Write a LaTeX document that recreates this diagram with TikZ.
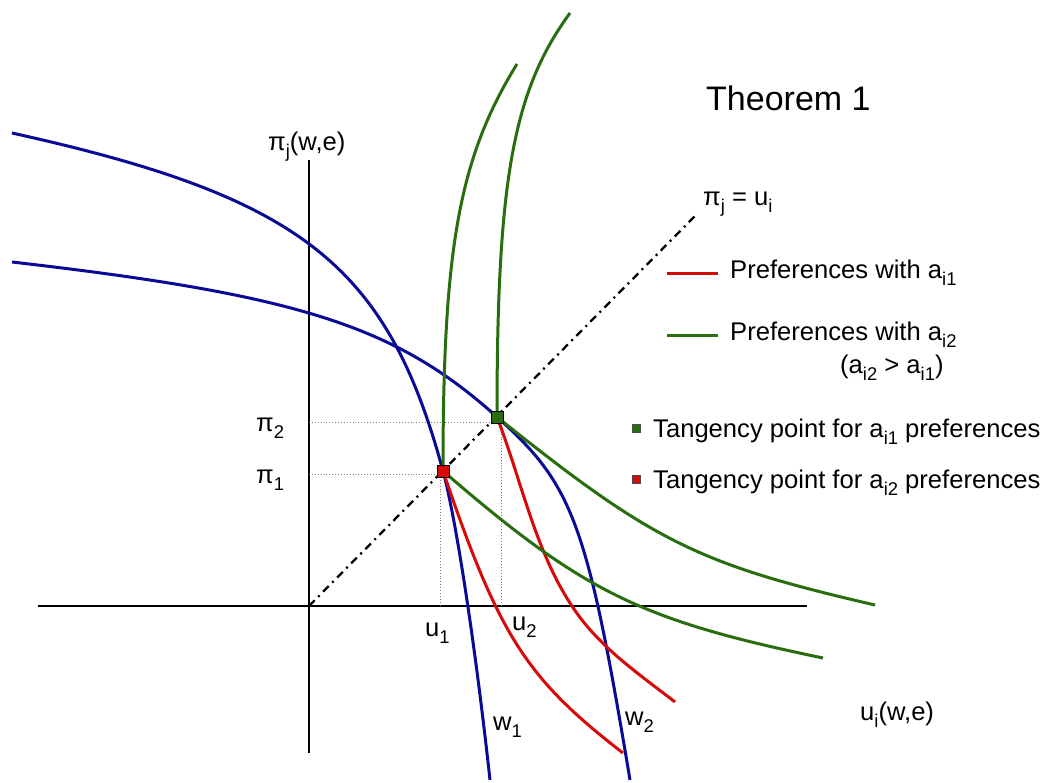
\documentclass[tikz,border=0pt]{standalone}
\usepackage{fontspec}
\setmainfont{Liberation Sans}
\definecolor{cblue}{RGB}{10,10,150}
\definecolor{cgreen}{RGB}{40,110,15}
\definecolor{cred}{RGB}{215,10,10}
\newcommand\sbx[1]{\raisebox{-0.3em}{\scalebox{0.72}{#1}}}
\begin{document}
\begin{tikzpicture}[x=1pt,y=-1pt,
  lbl/.style={font=\fontsize{25.6}{30}\selectfont, inner sep=0pt, anchor=base west},
  ttl/.style={font=\fontsize{34}{40}\selectfont, inner sep=0pt, anchor=base west},
  bluec/.style={cblue, line width=3pt},
  greenc/.style={cgreen, line width=3pt},
  redc/.style={cred, line width=3pt},
  axis/.style={black, line width=2.2pt},
  guide/.style={gray, line width=0.9pt, dotted},
  dashdot/.style={black, line width=2.3pt, dash pattern=on 8pt off 5pt on 2pt off 5pt},
  tsq/.style={rectangle, draw=black, line width=0.6pt, minimum size=12pt, inner sep=0pt},
  lsq/.style={rectangle, draw=black!70, line width=0.5pt, minimum size=8pt, inner sep=0pt}]
\useasboundingbox (0,0) rectangle (1052,782);
\fill[white] (0,0) rectangle (1052,782);

% axes
\coordinate (O) at (309,606);
\coordinate (xl) at (38,606);
\coordinate (xr) at (807,606);
\coordinate (yt) at (309,160);
\coordinate (yb) at (309,753);
\coordinate (diagend) at (697,214);
\draw[axis] (xl) -- (xr);
\draw[axis] (yt) -- (yb);

% tangency point coordinates
\coordinate (T1) at (443,471);
\coordinate (T2) at (497,417);

% dotted guides
\coordinate (p1a) at (309,474);
\coordinate (p1b) at (441,474);
\coordinate (p2a) at (309,422);
\coordinate (p2b) at (497,422);
\coordinate (u1a) at (440,474);
\coordinate (u1b) at (440,606);
\coordinate (u2a) at (501,422);
\coordinate (u2b) at (501,606);
\draw[guide] (p1a) -- (p1b);
\draw[guide] (p2a) -- (p2b);
\draw[guide] (u1a) -- (u1b);
\draw[guide] (u2a) -- (u2b);

% diagonal
\draw[dashdot] (O) -- (diagend);

% blue curves (w1, w2)
\draw[bluec] (12,133) .. controls (301,197) and (387,264) .. (T1)
             .. controls (456,519) and (475,643) .. (490,780);
\draw[bluec] (12,262) .. controls (299,295) and (396,326) .. (T2)
             .. controls (573,485) and (587,522) .. (630,780);

% red curves
\draw[redc] (T1) .. controls (499,636) and (526,678) .. (623,753);
\draw[redc] (T2) .. controls (524,487) and (538,567) .. (586,625)
             .. controls (611,655) and (644,678) .. (675,702);

% green curves
\draw[greenc] (517,64) .. controls (459,158) and (443,248) .. (T1);
\draw[greenc] (T1) .. controls (583,592) and (640,620) .. (823,658);
\draw[greenc] (570,13) .. controls (513,91) and (497,180) .. (T2);
\draw[greenc] (T2) .. controls (653,542) and (698,564) .. (875,605);

% tangency squares
\node[tsq, fill=cred] (sqred) at (T1) {};
\node[tsq, fill=cgreen] (sqgreen) at (T2) {};

% labels
\node[ttl] (title) at (706,110) {Theorem 1};
\node[lbl] (piaxis) at (268,150) {π\sbx{j}(w,e)};
\node[lbl] (uaxis) at (860,720) {u\sbx{i}(w,e)};
\node[lbl] (diaglbl) at (703,205) {π\sbx{j} = u\sbx{i}};
\node[lbl] (pi2) at (256,431) {π\sbx{2}};
\node[lbl] (pi1) at (256,483) {π\sbx{1}};
\node[lbl] (u1) at (425,636) {u\sbx{1}};
\node[lbl] (u2) at (512,630) {u\sbx{2}};
\node[lbl] (w1) at (493,730) {w\sbx{1}};
\node[lbl] (w2) at (625,725) {w\sbx{2}};

% legend
\coordinate (lr1) at (667,273);
\coordinate (lr2) at (718,273);
\coordinate (lg1) at (667,335);
\coordinate (lg2) at (718,335);
\draw[redc] (lr1) -- (lr2);
\draw[greenc] (lg1) -- (lg2);
\node[lbl] (leg1) at (730,278) {Preferences with a\sbx{i1}};
\node[lbl] (leg2) at (730,340) {Preferences with a\sbx{i2}};
\node[lbl] (leg2b) at (840,373) {(a\sbx{i2} > a\sbx{i1})};
\node[lsq, fill=cgreen] (lsqg) at (636,428) {};
\node[lsq, fill=cred] (lsqr) at (636,479) {};
\node[lbl] (leg3) at (653,437) {Tangency point for a\sbx{i1} preferences};
\node[lbl] (leg4) at (653,488) {Tangency point for a\sbx{i2} preferences};
\end{tikzpicture}
\end{document}
